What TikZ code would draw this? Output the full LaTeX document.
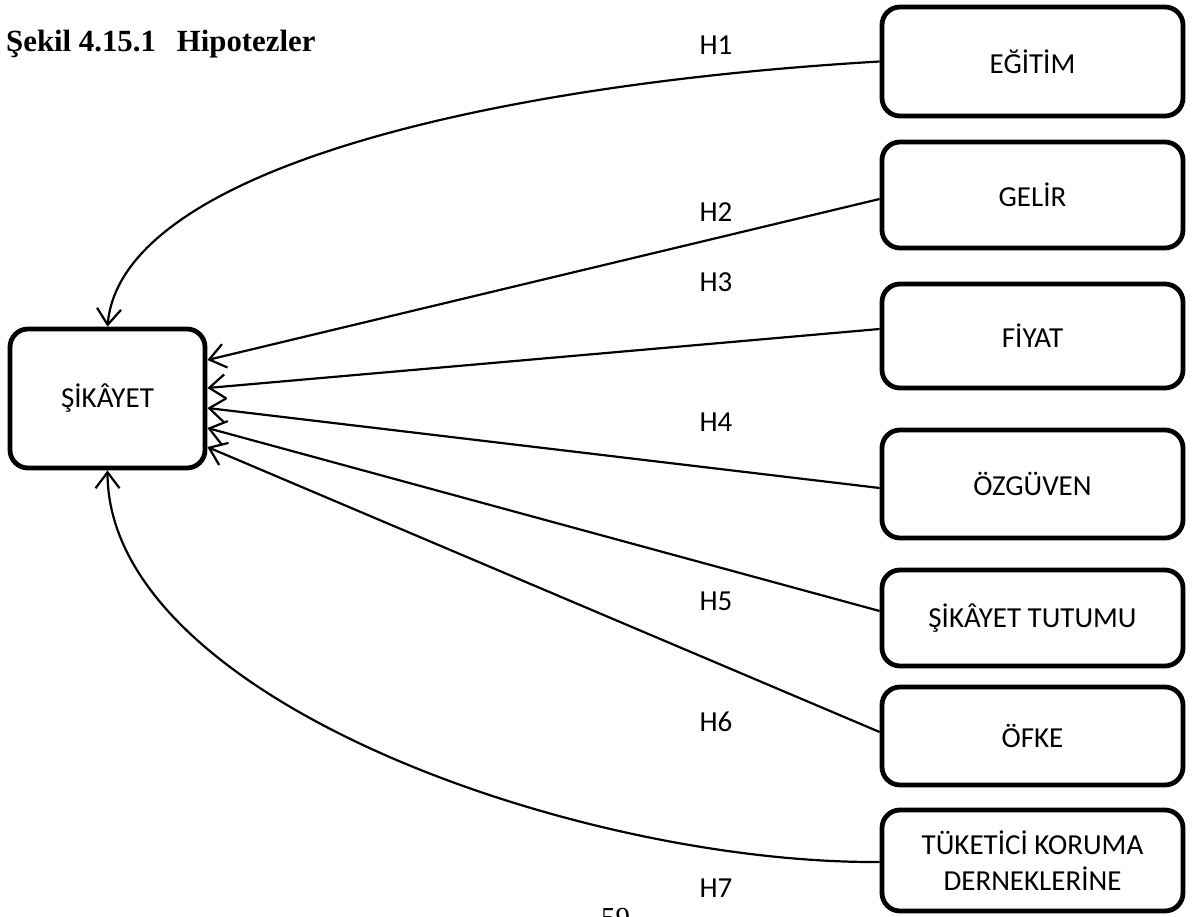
\documentclass[tikz,border=0pt]{standalone}
\usepackage{fontspec}
\setmainfont{Carlito}
\newfontfamily\seriffont{Liberation Serif}
\usetikzlibrary{arrows.meta}
\begin{document}
\begin{tikzpicture}[x=1pt,y=-1pt,
  box/.style={draw, line width=4.8pt, rounded corners=18pt, minimum width=301pt,
    inner sep=0pt, align=center, font=\fontsize{29}{36}\selectfont},
  link/.style={line width=2.2pt,
    -{Straight Barb[length=16pt,width=24pt,line width=2.2pt]}},
  hlabel/.style={font=\fontsize{29}{34}\selectfont}]
\useasboundingbox (0,0) rectangle (1200,917);
\clip (0,0) rectangle (1200,917);

% title and page number
\node[anchor=base west, inner sep=0pt, font=\seriffont\bfseries\fontsize{30.8}{36}\selectfont]
  (title) at (6,52) {Şekil 4.15.1\hspace{21pt}Hipotezler};
\node[anchor=base west, inner sep=0pt, font=\seriffont\fontsize{29}{34}\selectfont]
  (pagenum) at (601,927) {59};

% dependent variable
\node[box, minimum width=195pt, minimum height=139pt] (sikayet) at (107.5,398.5) {ŞİKÂYET};

% independent variables
\node[box, minimum height=109pt] (egitim)   at (1032.5,61.5) {EĞİTİM};
\node[box, minimum height=106pt] (gelir)    at (1032.5,195)  {GELİR};
\node[box, minimum height=104pt] (fiyat)    at (1032.5,336)  {FİYAT};
\node[box, minimum height=108pt] (ozguven)  at (1032.5,484)  {ÖZGÜVEN};
\node[box, minimum height=96pt]  (tutum)    at (1032.5,618)  {ŞİKÂYET TUTUMU};
\node[box, minimum height=98pt]  (ofke)     at (1032.5,736)  {ÖFKE};
\node[box, minimum height=101pt] (tuketici) at (1032.5,860.5) {TÜKETİCİ KORUMA\\DERNEKLERİNE};

% hypothesis labels
\node[hlabel] (h1) at (716,45)  {H1};
\node[hlabel] (h2) at (716,212) {H2};
\node[hlabel] (h3) at (716,282) {H3};
\node[hlabel] (h4) at (716,422) {H4};
\node[hlabel] (h5) at (716,601) {H5};
\node[hlabel] (h6) at (716,722) {H6};
\node[hlabel] (h7) at (716,888) {H7};

% hypothesised effects
\draw[link] (egitim.west) .. controls (480,85) and (121,172) .. (sikayet.north);
\draw[link] ([yshift=-4pt]gelir.west)   -- ([yshift=38.5pt]sikayet.east);
\draw[link] ([yshift=7pt]fiyat.west)    -- ([yshift=10.5pt]sikayet.east);
\draw[link] ([yshift=-4pt]ozguven.west) -- ([yshift=-9.5pt]sikayet.east);
\draw[link] ([yshift=7pt]tutum.west)    -- ([yshift=-29.5pt]sikayet.east);
\draw[link] ([yshift=4pt]ofke.west)     -- ([yshift=-48.5pt]sikayet.east);
\draw[link] ([yshift=-1.5pt]tuketici.west) .. controls (580,864) and (108,700) .. (sikayet.south);
\end{tikzpicture}
\end{document}
